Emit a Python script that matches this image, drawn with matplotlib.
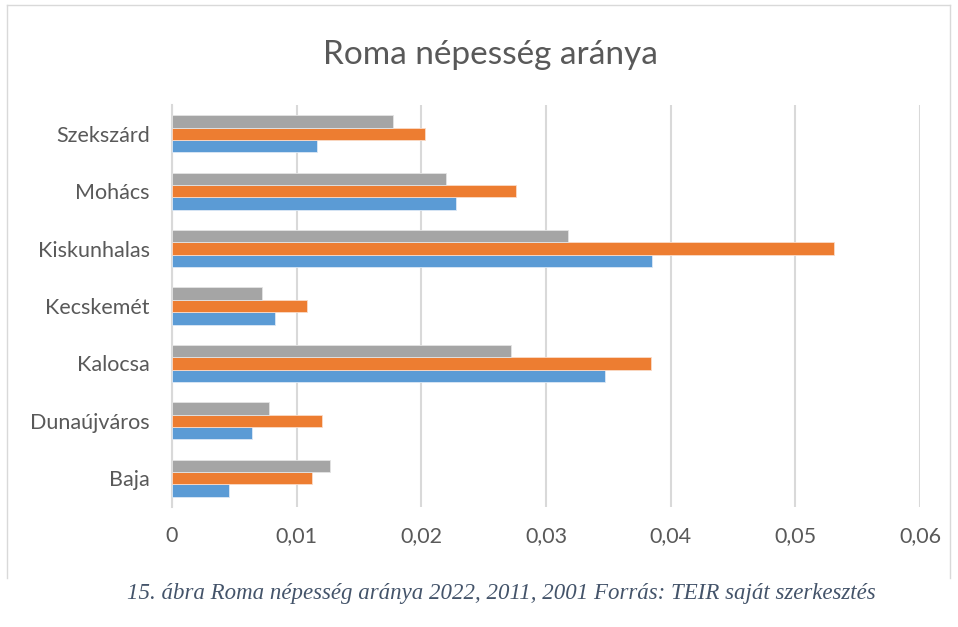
import matplotlib.pyplot as plt
import numpy as np
from matplotlib.ticker import FuncFormatter
from matplotlib.lines import Line2D

cities = ["Baja", "Dunaújváros", "Kalocsa", "Kecskemét", "Kiskunhalas", "Mohács", "Szekszárd"]
blue_vals = [0.0046, 0.0064, 0.0347, 0.0083, 0.0385, 0.0228, 0.0116]
orange_vals = [0.0112, 0.0120, 0.0384, 0.0108, 0.0531, 0.0276, 0.0203]
gray_vals = [0.0127, 0.0078, 0.0272, 0.0072, 0.0318, 0.0220, 0.0177]
xticks = [0, 0.01, 0.02, 0.03, 0.04, 0.05, 0.06]

fig = plt.figure(figsize=(9.58, 6.27), dpi=100)
ax = fig.add_axes([172/958, 1-507/627, 748/958, 402/627])

y = np.arange(len(cities))
h = 0.215
ax.barh(y - h, blue_vals, height=h, color="#5B9BD5", edgecolor="#DCE8F5", linewidth=0.6, zorder=3)
ax.barh(y, orange_vals, height=h, color="#ED7D31", edgecolor="#FADBC8", linewidth=0.6, zorder=3)
ax.barh(y + h, gray_vals, height=h, color="#A5A5A5", edgecolor="#E4E4E4", linewidth=0.6, zorder=3)

ax.set_xlim(0, 0.06)
ax.set_ylim(-0.5, len(cities) - 0.5)
ax.set_xticks(xticks)
ax.xaxis.set_major_formatter(FuncFormatter(lambda v, p: "0" if v == 0 else f"{v:.2f}".replace(".", ",")))
ax.set_yticks(y)
ax.set_yticklabels(cities)
ax.grid(axis="x", color="#D9D9D9", linewidth=1.5, zorder=0)
ax.tick_params(axis="both", length=0, labelsize=15.5, colors="#595959")
ax.tick_params(axis="x", pad=14)
ax.tick_params(axis="y", pad=16)
for lab in ax.get_xticklabels() + ax.get_yticklabels():
    lab.set_family("Lato")
for s in ["top", "right", "bottom"]:
    ax.spines[s].set_visible(False)
ax.spines["left"].set_color("#D9D9D9")
ax.spines["left"].set_linewidth(1.5)

fig.text(490/958, 1-55/627, "Roma népesség aránya", ha="center", va="center",
         fontsize=24, color="#595959", family="Lato")

# chart frame
frame_col = "#D9D9D9"
fig.add_artist(Line2D([7/958, 7/958], [1-578/627, 1-5/627], color=frame_col, lw=1, transform=fig.transFigure))
fig.add_artist(Line2D([7/958, 950/958], [1-5/627, 1-5/627], color=frame_col, lw=1, transform=fig.transFigure))
fig.add_artist(Line2D([950/958, 950/958], [1-578/627, 1-5/627], color=frame_col, lw=1, transform=fig.transFigure))

fig.text(501/958, 1-593/627, "15. ábra Roma népesség aránya 2022, 2011, 2001 Forrás: TEIR saját szerkesztés",
         ha="center", va="center", fontsize=16.5, style="italic", color="#44546A", family="Liberation Serif")

fig.savefig("out.png", dpi=100)
